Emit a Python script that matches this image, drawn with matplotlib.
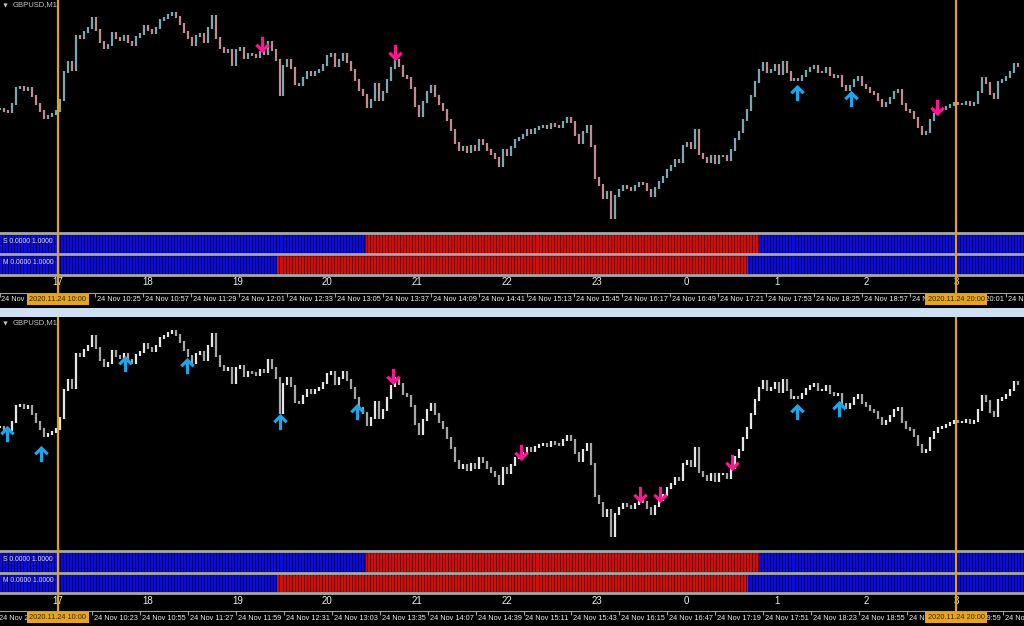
import matplotlib
matplotlib.use("Agg")
import matplotlib.pyplot as plt
import matplotlib.transforms as mtransforms
from matplotlib.lines import Line2D
from matplotlib.patches import Rectangle
from matplotlib.path import Path
import numpy as np

# GBPUSD M1, 24 Nov 2020. Close prices in pips above 1.3300,
# one sample every 160 s starting 09:21:20
close_pips = [
    65.5, 64.5, 64, 68, 76, 76.5, 75, 76, 72, 68, 64.5, 61, 62, 63, 64.5, 70,
    84, 89, 85, 102, 101, 104, 106, 111, 105, 99, 96, 97.5, 103.5, 101, 100, 102,
    99, 97.5, 101.5, 103, 107, 105, 103.5, 106, 110, 111, 112.5, 113.5, 111.5, 108, 104, 101,
    97.5, 102, 103, 99, 106, 112, 101, 96, 94, 95, 87.5, 95, 96, 91, 93, 92.5,
    91.5, 94, 93, 99, 95, 90, 72.5, 87, 90, 86, 78, 77.5, 81, 84, 82.5, 84,
    85, 87.5, 92, 93, 87, 90, 93, 89, 85, 80, 75, 72.5, 66.5, 70, 78, 70,
    74, 80, 86, 90, 87, 82, 81, 76, 67, 62, 69, 74, 77, 72, 68, 65,
    60, 55, 48.5, 45, 46.5, 44, 47, 45, 50, 48, 45, 43, 41, 37, 45, 42.5,
    46.5, 50, 51, 52.5, 55, 53.5, 55.5, 56.5, 57, 56, 58, 57, 56.5, 59, 61, 59,
    52.5, 48.5, 54, 57, 47, 31, 27.5, 21, 24, 11, 22, 25, 27, 26, 25, 27,
    28.5, 28, 25, 22, 26, 29, 31.5, 35, 37, 40, 39, 47, 48.5, 46, 55, 43,
    41, 39, 42, 38.5, 42, 42, 40, 45, 50.5, 54, 60, 65, 72, 79, 85, 88.5,
    84, 85, 87.5, 83, 89, 84, 80, 80.5, 80, 82, 84.5, 86, 87, 84, 84, 86,
    82.5, 81.5, 82, 77, 75, 77, 80, 81.5, 77.5, 76, 74, 73, 70, 67, 68.5, 71,
    74, 75, 68, 65, 64, 61, 56.5, 53, 54, 60, 63, 65, 65.5, 66.5, 67.5, 68.5,
    68, 68, 69, 67.5, 68.5, 74, 81, 78.5, 73, 71, 79, 80, 81.5, 84, 88, 87,
]
base_price = 1.3300
first_sample = "09:21:20"
sample_sec = 160

vline_times = ["10:00", "20:00"]
hour_labels = ["17", "18", "19", "20", "21", "22", "23", "0", "1", "2", "3"]
hour_times = ["10:00", "11:00", "12:00", "13:00", "14:00", "15:00",
              "16:00", "17:00", "18:00", "19:00", "20:00"]

top_tick_times = ["09:21", "10:25", "10:57", "11:29", "12:01", "12:33",
                  "13:05", "13:37", "14:09", "14:41", "15:13", "15:45", "16:17",
                  "16:49", "17:21", "17:53", "18:25", "18:57", "19:29", "20:01",
                  "20:33"]
bottom_tick_times = ["09:19", "10:23", "10:55", "11:27", "11:59", "12:31",
                     "13:03", "13:35", "14:07", "14:39", "15:11", "15:43", "16:15",
                     "16:47", "17:19", "17:51", "18:23", "18:55", "19:27", "19:59",
                     "20:31"]

# indicator state: red between these times, blue elsewhere
s_red = ("13:26", "17:48")
m_red = ("12:26", "17:41")

# signal arrows (time, price in pips above base)
top_down = [("12:16", 97.5), ("13:45", 93.5), ("19:47", 66)]
top_up = [("18:14", 74), ("18:50", 71)]
bottom_down = [("13:44", 90.5), ("15:09", 52.5), ("16:29", 31.5),
               ("16:42", 31.5), ("17:30", 47.5)]
bottom_up = [("09:26", 62.5), ("09:49", 52.5), ("10:45", 97.5), ("11:26", 96.5),
             ("12:28", 68.5), ("13:20", 73.5), ("18:14", 73.5), ("18:42", 75)]

W, H = 1024, 626
XLIM = (-38.7, 645.3)
YLIM = (base_price + 4 / 1e4, base_price + 120 / 1e4)
FONT = "Liberation Sans"


def mins(t):
    parts = [int(v) for v in t.split(":")]
    m = (parts[0] - 10) * 60 + parts[1]
    if len(parts) > 2:
        m += parts[2] / 60
    return m


fig = plt.figure(figsize=(W / 100, H / 100), dpi=100, facecolor="black")


def px_axes(x0, y0, w, h):
    ax = fig.add_axes([x0 / W, 1 - (y0 + h) / H, w / W, h / H])
    ax.set_facecolor("black")
    ax.set_xlim(*XLIM)
    ax.set_xticks([])
    ax.set_yticks([])
    for s in ax.spines.values():
        s.set_visible(False)
    return ax


def fig_hline(y, color, lw, z=2):
    fig.add_artist(Line2D([0, 1], [1 - y / H, 1 - y / H], color=color, lw=lw,
                          transform=fig.transFigure, zorder=z))


# thick wingdings-like arrow
down_arrow = Path([(-0.18, 1), (0.18, 1), (0.18, -0.18), (0.58, 0.22), (0.84, -0.04),
                   (0, -0.88), (-0.84, -0.04), (-0.58, 0.22), (-0.18, -0.18), (-0.18, 1)],
                  closed=True)
up_arrow = Path([(x, -y) for x, y in down_arrow.vertices], closed=True)

t_samples = mins(first_sample) + np.arange(len(close_pips)) * sample_sec / 60
prices = base_price + np.array(close_pips) / 1e4
minutes = np.arange(-39, 646)


def strip(ax, red_span, label):
    lo, hi = mins(red_span[0]), mins(red_span[1])
    is_red = (minutes >= lo) & (minutes < hi)
    ax.set_ylim(0, 1)
    ax.axvspan(XLIM[0], lo, color="#000070", lw=0)
    ax.axvspan(lo, hi, color="#6a0000", lw=0)
    ax.axvspan(hi, XLIM[1], color="#000070", lw=0)
    ax.vlines(minutes[~is_red], 0, 1, colors="#0c0cd4", lw=0.75)
    ax.vlines(minutes[is_red], 0, 1, colors="#cc1010", lw=0.75)
    ax.text(3 / W * (XLIM[1] - XLIM[0]) + XLIM[0], 0.62, label, color="#e0e0e0",
            fontsize=4.9, family=FONT, va="center", ha="left")


def panel(y0, up_col, dn_col, arrows_up, arrows_dn, tick_times):
    ax = px_axes(0, y0, W, 232)
    ax.set_ylim(*YLIM)
    prev = np.concatenate([[prices[0]], prices[:-1]])
    lo = np.minimum(prev, prices) - 0.7e-4
    hi = np.maximum(prev, prices) + 0.7e-4
    up = prices >= prev
    ax.vlines(t_samples[up], lo[up], hi[up], colors=up_col, lw=1.6)
    ax.vlines(t_samples[~up], lo[~up], hi[~up], colors=dn_col, lw=1.6)
    if arrows_up:
        ax.plot([mins(t) for t, _ in arrows_up],
                [base_price + p / 1e4 for _, p in arrows_up],
                ls="none", marker=up_arrow, ms=12.5, color="#1ea6ea", mew=0)
    if arrows_dn:
        ax.plot([mins(t) for t, _ in arrows_dn],
                [base_price + p / 1e4 for _, p in arrows_dn],
                ls="none", marker=down_arrow, ms=12.5, color="#ff1493", mew=0)
    ax.text(0.012, 1 - 5 / 232, "GBPUSD,M1", transform=ax.transAxes, color="#c8c8c8",
            fontsize=5.5, family=FONT, va="center", ha="left")
    ax.plot([0.0045], [1 - 5 / 232], transform=ax.transAxes, marker="v", ms=3,
            color="#c8c8c8", mew=0)

    strip(px_axes(0, y0 + 233.5, W, 20), s_red, "S 0.0000 1.0000")
    strip(px_axes(0, y0 + 255.5, W, 18.5), m_red, "M 0.0000 1.0000")

    fig_hline(y0 + 232.5, "#a8a8a8", 2.0)
    fig_hline(y0 + 254.5, "#a8a8a8", 2.0)
    fig_hline(y0 + 275, "#a8a8a8", 2.0)

    lab = px_axes(0, y0 + 276, W, 32)
    lab.set_ylim(32, 0)
    for t, h in zip(hour_times, hour_labels):
        lab.text(mins(t), 6.5, h, color="#ececec", fontsize=7, family=FONT,
                 ha="center", va="center")
    lab.axhline(17, color="#a0a0a0", lw=0.8)
    tick_x = [mins(t) for t in tick_times]
    lab.vlines(tick_x, 17, 21, colors="#a0a0a0", lw=0.8)
    for i, t in enumerate(tick_times):
        txt = "24 Nov 2020" if i == 0 else "24 Nov " + t
        lab.text(mins(t) + 1.3, 24, txt, color="#ececec", fontsize=5.3, family=FONT,
                 ha="left", va="center")
    for t in vline_times:
        lab.text(mins(t), 23.5, "2020.11.24 " + t, color="#3a2600", fontsize=5.3,
                 family=FONT, ha="center", va="center", zorder=5,
                 bbox=dict(boxstyle="square,pad=0.3", fc="#e6a51e", ec="none"))

    trans = mtransforms.blended_transform_factory(ax.transData, fig.transFigure)
    for t in vline_times:
        fig.add_artist(Line2D([mins(t)] * 2, [1 - y0 / H, 1 - (y0 + 293) / H],
                              color="#e0a020", lw=1.6, transform=trans, zorder=3))


panel(0, "#7aa8b2", "#c48a92", top_up, top_down, top_tick_times)
panel(318, "#e6e6e6", "#a6a6a6", bottom_up, bottom_down, bottom_tick_times)

fig.add_artist(Rectangle((0, 1 - 317 / H), 1, 9 / H, transform=fig.transFigure,
                         fc="#cddff0", ec="none", zorder=4))

fig.savefig("out.png", dpi=100, facecolor="black")
